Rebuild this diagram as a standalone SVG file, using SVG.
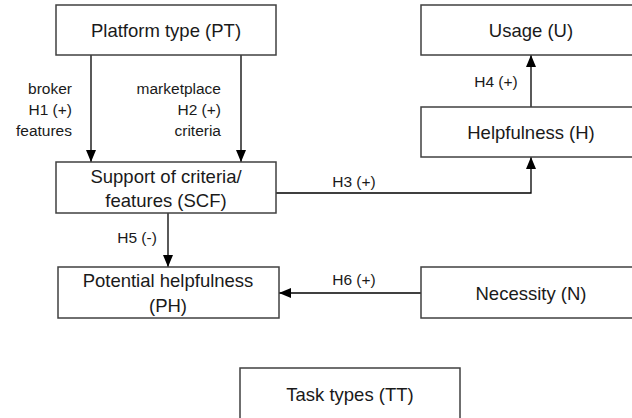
<svg xmlns="http://www.w3.org/2000/svg" width="632" height="418" viewBox="0 0 632 418">
<defs>
<marker id="ah" viewBox="0 0 12 10" refX="12" refY="5" markerWidth="12" markerHeight="10" markerUnits="userSpaceOnUse" orient="auto">
<path d="M0,0 L12,5 L0,10 Z" fill="#000"/>
</marker>
<style>
.box{fill:#fff;stroke:#404040;stroke-width:1.5}
.nt{font-family:"Liberation Sans",Arial,sans-serif;font-size:18.5px;fill:#1a1a1a;text-anchor:middle}
.lb{font-family:"Liberation Sans",Arial,sans-serif;font-size:15.5px;fill:#1a1a1a}
.ln{fill:none;stroke:#000;stroke-width:1.3}
</style>
</defs>
<rect width="632" height="418" fill="#fff"/>
<g id="connectors">
<line class="ln" x1="91" y1="55" x2="91" y2="162" marker-end="url(#ah)"/>
<line class="ln" x1="241" y1="55" x2="241" y2="162" marker-end="url(#ah)"/>
<polyline class="ln" points="276,193 531,193 531,157" marker-end="url(#ah)"/>
<line class="ln" x1="531" y1="107" x2="531" y2="55" marker-end="url(#ah)"/>
<line class="ln" x1="168" y1="213" x2="168" y2="267" marker-end="url(#ah)"/>
<line class="ln" x1="421" y1="293" x2="279" y2="293" marker-end="url(#ah)"/>
<text class="lb" x="72" y="94" text-anchor="end">broker</text>
<text class="lb" x="72" y="115" text-anchor="end">H1 (+)</text>
<text class="lb" x="72" y="136" text-anchor="end">features</text>
<text class="lb" x="221" y="94" text-anchor="end">marketplace</text>
<text class="lb" x="221" y="115" text-anchor="end">H2 (+)</text>
<text class="lb" x="221" y="136" text-anchor="end">criteria</text>
<text class="lb" x="354" y="187" text-anchor="middle">H3 (+)</text>
<text class="lb" x="496" y="87" text-anchor="middle">H4 (+)</text>
<text class="lb" x="137" y="243" text-anchor="middle">H5 (-)</text>
<text class="lb" x="354" y="285" text-anchor="middle">H6 (+)</text>
</g>
<g id="PT">
<rect class="box" x="56" y="5" width="220" height="50"/>
<text class="nt" x="166" y="37">Platform type (PT)</text>
</g>
<g id="U">
<rect class="box" x="421" y="5" width="220" height="50"/>
<text class="nt" x="531" y="37">Usage (U)</text>
</g>
<g id="H">
<rect class="box" x="421" y="107" width="220" height="50"/>
<text class="nt" x="531" y="139">Helpfulness (H)</text>
</g>
<g id="SCF">
<rect class="box" x="56" y="162" width="220" height="51"/>
<text class="nt" x="166" y="183">Support of criteria/</text>
<text class="nt" x="166" y="207">features (SCF)</text>
</g>
<g id="PH">
<rect class="box" x="58" y="267" width="221" height="51"/>
<text class="nt" x="168" y="287">Potential helpfulness</text>
<text class="nt" x="168" y="312">(PH)</text>
</g>
<g id="N">
<rect class="box" x="421" y="267" width="220" height="51"/>
<text class="nt" x="531" y="300">Necessity (N)</text>
</g>
<g id="TT">
<rect class="box" x="240" y="368" width="220" height="60"/>
<text class="nt" x="350" y="401">Task types (TT)</text>
</g>
</svg>
